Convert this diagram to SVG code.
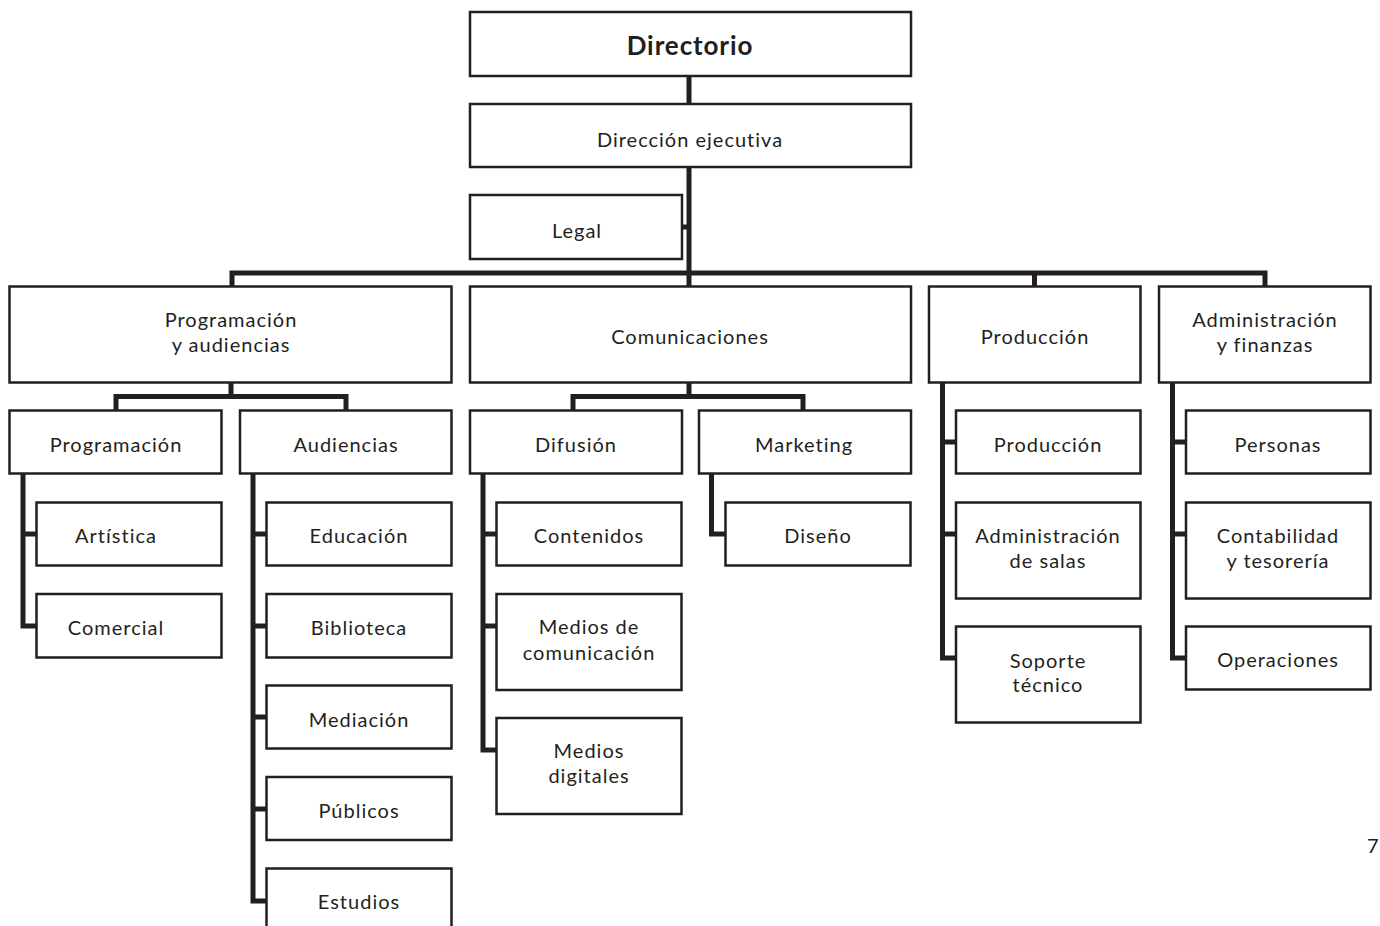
<svg xmlns="http://www.w3.org/2000/svg" width="1380" height="926" viewBox="0 0 1380 926">
<style>
.box{fill:#fff;stroke:#231f20;stroke-width:2.5}
.t{font-family:Lato,"Liberation Sans",sans-serif;font-size:20px;letter-spacing:1px;fill:#231f20;text-anchor:middle}
.b{font-weight:bold;font-size:26px;letter-spacing:0.9px}
.c{fill:none;stroke:#231f20;stroke-width:5;stroke-linejoin:miter;stroke-linecap:butt}
</style>
<rect width="1380" height="926" fill="#fff"/>
<g id="connectors">
<path class="c" d="M689,76V103"/>
<path class="c" d="M689,167V286"/>
<path class="c" d="M682,227H689"/>
<path class="c" d="M232,286V273H1265V286"/>
<path class="c" d="M1034.5,273V286"/>
<path class="c" d="M231,383V396.5"/>
<path class="c" d="M116,410V396.5H346V410"/>
<path class="c" d="M689,383V396.5"/>
<path class="c" d="M573,410V396.5H803V410"/>
<path class="c" d="M23,474V626H36M23,534H36"/>
<path class="c" d="M253,474V901H266M253,534H266M253,626H266M253,717H266M253,809H266"/>
<path class="c" d="M483,474V750H496M483,534H496M483,626H496"/>
<path class="c" d="M711.5,474V534H725"/>
<path class="c" d="M942.5,383V658H955M942.5,442H955M942.5,534H955"/>
<path class="c" d="M1172.5,383V658H1185M1172.5,442H1185M1172.5,534H1185"/>
</g>
<g id="directorio"><rect class="box" x="470" y="12" width="441" height="64"/><text class="t b" x="690" y="55">Directorio</text></g>
<g id="direccion"><rect class="box" x="470" y="104" width="441" height="63"/><text class="t" x="690" y="146.5">Dirección ejecutiva</text></g>
<g id="legal"><rect class="box" x="470" y="195" width="212" height="64"/><text class="t" x="577" y="238">Legal</text></g>
<g id="prog-aud"><rect class="box" x="9.5" y="286.5" width="442" height="96"/><text class="t" x="231" y="327">Programación</text><text class="t" x="231" y="352">y audiencias</text></g>
<g id="comunicaciones"><rect class="box" x="470" y="286.5" width="441" height="96"/><text class="t" x="690" y="344">Comunicaciones</text></g>
<g id="produccion"><rect class="box" x="929" y="286.5" width="211.5" height="96"/><text class="t" x="1035" y="344">Producción</text></g>
<g id="adm-fin"><rect class="box" x="1159" y="286.5" width="211.5" height="96"/><text class="t" x="1265" y="327">Administración</text><text class="t" x="1265" y="352">y finanzas</text></g>
<g id="programacion"><rect class="box" x="9.5" y="410.5" width="212" height="63"/><text class="t" x="116" y="451.5">Programación</text></g>
<g id="audiencias"><rect class="box" x="240" y="410.5" width="211.5" height="63"/><text class="t" x="346" y="451.5">Audiencias</text></g>
<g id="difusion"><rect class="box" x="470" y="410.5" width="212" height="63"/><text class="t" x="576" y="451.5">Difusión</text></g>
<g id="marketing"><rect class="box" x="699" y="410.5" width="212" height="63"/><text class="t" x="804" y="451.5">Marketing</text></g>
<g id="produccion-sub"><rect class="box" x="956" y="410.5" width="184.5" height="63"/><text class="t" x="1048" y="451.5">Producción</text></g>
<g id="personas"><rect class="box" x="1186" y="410.5" width="184.5" height="63"/><text class="t" x="1278" y="451.5">Personas</text></g>
<g id="artistica"><rect class="box" x="36.5" y="502.5" width="185" height="63"/><text class="t" x="116" y="543">Artística</text></g>
<g id="comercial"><rect class="box" x="36.5" y="594" width="185" height="63.5"/><text class="t" x="116" y="634.5">Comercial</text></g>
<g id="educacion"><rect class="box" x="266.5" y="502.5" width="185" height="63"/><text class="t" x="359" y="543">Educación</text></g>
<g id="biblioteca"><rect class="box" x="266.5" y="594" width="185" height="63.5"/><text class="t" x="359" y="634.5">Biblioteca</text></g>
<g id="mediacion"><rect class="box" x="266.5" y="685.5" width="185" height="63"/><text class="t" x="359" y="726.5">Mediación</text></g>
<g id="publicos"><rect class="box" x="266.5" y="777" width="185" height="63"/><text class="t" x="359" y="817.5">Públicos</text></g>
<g id="estudios"><rect class="box" x="266.5" y="868.5" width="185" height="70"/><text class="t" x="359" y="908.5">Estudios</text></g>
<g id="contenidos"><rect class="box" x="496.5" y="502.5" width="185" height="63"/><text class="t" x="589" y="543">Contenidos</text></g>
<g id="medios-com"><rect class="box" x="496.5" y="594" width="185" height="96"/><text class="t" x="589" y="634">Medios de</text><text class="t" x="589" y="659.5">comunicación</text></g>
<g id="medios-dig"><rect class="box" x="496.5" y="718" width="185" height="96"/><text class="t" x="589" y="758">Medios</text><text class="t" x="589" y="783">digitales</text></g>
<g id="diseno"><rect class="box" x="725.5" y="502.5" width="185" height="63"/><text class="t" x="818" y="543">Diseño</text></g>
<g id="adm-salas"><rect class="box" x="956" y="502.5" width="184.5" height="96"/><text class="t" x="1048" y="543">Administración</text><text class="t" x="1048" y="568">de salas</text></g>
<g id="soporte"><rect class="box" x="956" y="626.5" width="184.5" height="96"/><text class="t" x="1048" y="667.5">Soporte</text><text class="t" x="1048" y="692">técnico</text></g>
<g id="contabilidad"><rect class="box" x="1186" y="502.5" width="184.5" height="96"/><text class="t" x="1278" y="543">Contabilidad</text><text class="t" x="1278" y="568">y tesorería</text></g>
<g id="operaciones"><rect class="box" x="1186" y="626.5" width="184.5" height="63"/><text class="t" x="1278" y="667">Operaciones</text></g>
<text class="t" x="1367" y="853" style="text-anchor:start;letter-spacing:0">7</text>
</svg>
